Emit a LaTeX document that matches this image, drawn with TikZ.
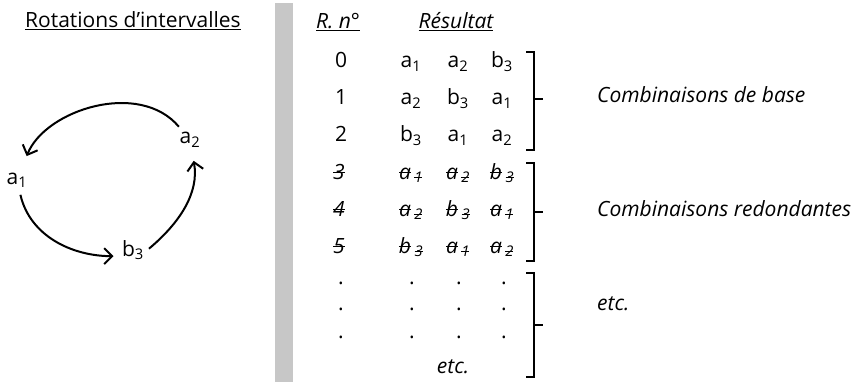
\documentclass[tikz,border=0pt]{standalone}
\usepackage{fontspec}
\setmainfont{Open Sans}
\usetikzlibrary{arrows.meta}

% lettre avec indice, et la meme rayee
\newsavebox{\barrebox}
\newcommand{\barre}[1]{\sbox{\barrebox}{#1}\rlap{\usebox{\barrebox}}\rule[0.28em]{\wd\barrebox}{0.07em}}
\newcommand{\ind}[2]{#1\textsubscript{#2}}
\newcommand{\rayee}[2]{\textit{\barre{#1}\,\textsubscript{\barre{#2}}}}

\begin{document}
\begin{tikzpicture}[x=1pt,y=1pt,font=\fontsize{21}{25}\selectfont]
\useasboundingbox (0,0) rectangle (858,-382);

\tikzset{cell/.style={anchor=base,inner sep=1pt},
         note/.style={anchor=base west,inner sep=0pt,font=\fontsize{21}{25}\selectfont\itshape},
         fleche/.style={-{Straight Barb[length=8pt,width=16pt]},line width=2pt},
         crochet/.style={line width=1.5pt}}

% Bande grise
\fill [black!22] (275,-3) rectangle (293,-382);

% Rotations
\node (titre) at (133,-28) [anchor=base] {\underline{Rotations d'intervalles}};
\node (a1) at (17,-180) {\ind{a}{1}};
\node (a2) at (190,-140) {\ind{a}{2}};
\node (b3) at (133,-250) {\ind{b}{3}};

\draw [fleche, shorten <=3pt, shorten >=14pt] (a2) to[out=130,in=68] (a1);
\draw [fleche, shorten <=4pt, shorten >=5pt] (a1) to[out=-77,in=180] (b3.base west);
\draw [fleche, shorten <=2pt, shorten >=10pt] (b3.east) to[out=40,in=-80] (a2);

% En-tetes du tableau
\node (rn) at (338,-29) [cell] {\textit{\underline{R. n°}}};
\node (res) at (456,-29) [cell] {\textit{\underline{Résultat}}};

% Combinaisons de base
\node (n0) at (341,-68) [cell] {0};
\node (r0a) at (411,-68) [cell] {\ind{a}{1}};
\node (r0b) at (458,-68) [cell] {\ind{a}{2}};
\node (r0c) at (502,-68) [cell] {\ind{b}{3}};

\node (n1) at (341,-105) [cell] {1};
\node (r1a) at (411,-105) [cell] {\ind{a}{2}};
\node (r1b) at (458,-105) [cell] {\ind{b}{3}};
\node (r1c) at (502,-105) [cell] {\ind{a}{1}};

\node (n2) at (341,-142) [cell] {2};
\node (r2a) at (411,-142) [cell] {\ind{b}{3}};
\node (r2b) at (458,-142) [cell] {\ind{a}{1}};
\node (r2c) at (502,-142) [cell] {\ind{a}{2}};

% Combinaisons redondantes
\node (n3) at (339,-179) [cell] {\textit{\barre{3}}};
\node (r3a) at (411,-179) [cell] {\rayee{a}{1}};
\node (r3b) at (458,-179) [cell] {\rayee{a}{2}};
\node (r3c) at (502,-179) [cell] {\rayee{b}{3}};

\node (n4) at (339,-216) [cell] {\textit{\barre{4}}};
\node (r4a) at (411,-216) [cell] {\rayee{a}{2}};
\node (r4b) at (458,-216) [cell] {\rayee{b}{3}};
\node (r4c) at (502,-216) [cell] {\rayee{a}{1}};

\node (n5) at (339,-253) [cell] {\textit{\barre{5}}};
\node (r5a) at (411,-253) [cell] {\rayee{b}{3}};
\node (r5b) at (458,-253) [cell] {\rayee{a}{1}};
\node (r5c) at (502,-253) [cell] {\rayee{a}{2}};

% Points de suite
\foreach \y in {284,310,338}
    \foreach \x in {341,412,459,504}
        \node at (\x,-\y) [cell] {.};
\node (etcb) at (453,-373) [cell] {\textit{etc.}};

% Crochets
\draw [crochet] (526,-52) -- (534,-52) -- (534,-150) -- (526,-150);
\draw [crochet] (534,-99) -- (543,-99);
\draw [crochet] (526,-163) -- (534,-163) -- (534,-261) -- (526,-261);
\draw [crochet] (534,-212) -- (543,-212);
\draw [crochet] (526,-273) -- (534,-273) -- (534,-377) -- (526,-377);
\draw [crochet] (534,-325) -- (543,-325);

\node (base) at (597,-103) [note] {Combinaisons de base};
\node (redond) at (597,-216) [note] {Combinaisons redondantes};
\node (etc) at (597,-310) [note] {etc.};

\end{tikzpicture}
\end{document}
